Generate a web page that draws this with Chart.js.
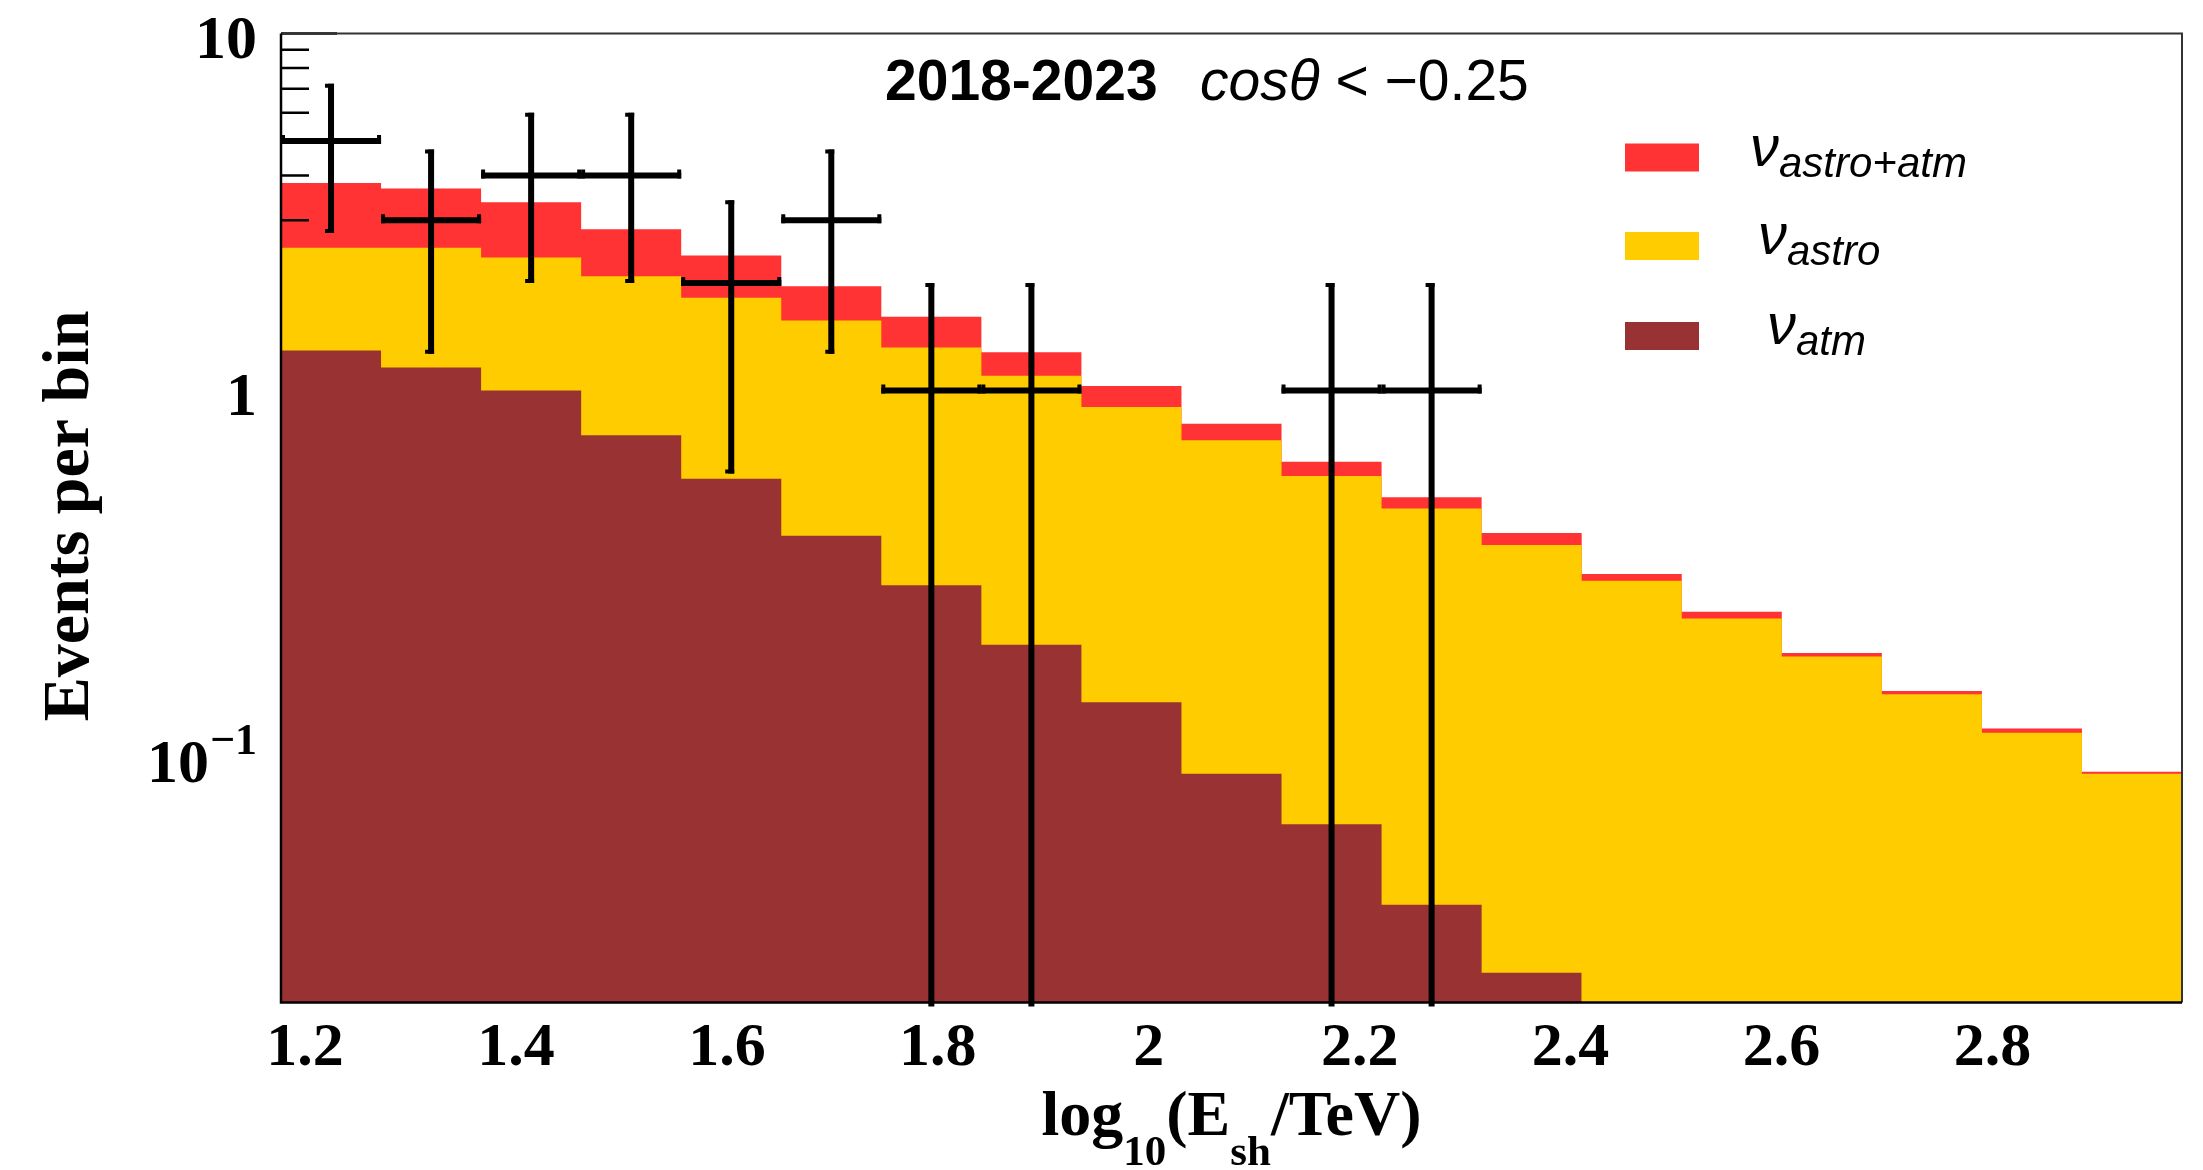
<!DOCTYPE html>
<html>
<head>
<meta charset="utf-8">
<title>Events per bin</title>
<script src="https://cdn.jsdelivr.net/npm/chart.js@4.4.1/dist/chart.umd.min.js"></script>
<style>
  html, body { margin: 0; padding: 0; background: #fff; }
  canvas { display: block; }
</style>
</head>
<body>
<canvas id="spectrumChart" width="2203" height="1170"></canvas>
<script>
// Shower energy spectrum, upgoing events (cos theta < -0.25), 2018-2023

// Binning of log10(E_sh/TeV)
const binCount = 19;
const xMin = 1.1772;
const xMax = 2.9798;

// Expected events per bin
const astroAtm = [3.81, 3.68, 3.37, 2.83, 2.39, 1.96, 1.61, 1.28, 1.03, 0.807,
                  0.632, 0.502, 0.399, 0.306, 0.240, 0.184, 0.144, 0.113, 0.0855];
const astro    = [2.51, 2.51, 2.36, 2.09, 1.82, 1.57, 1.32, 1.10, 0.899, 0.726,
                  0.576, 0.467, 0.369, 0.293, 0.230, 0.180, 0.141, 0.110, 0.0845];
// atmospheric part only where it is above the axis minimum (first 13 bins)
const atm      = [1.295, 1.16, 1.0, 0.749, 0.566, 0.392, 0.285, 0.194, 0.134, 0.0845,
                  0.061, 0.0363, 0.0234];

// Observed events and their errors
const observed    = [5, 3, 4, 4, 2, 3, 1, 1, 0, 0, 1, 1, 0, 0, 0, 0, 0, 0, 0];
const observedErr = [2.236, 1.732, 2, 2, 1.414, 1.732, 1, 1, 0, 0, 1, 1, 0, 0, 0, 0, 0, 0, 0];

// Axis ticks and labels
const xTickValues = [1.2, 1.4, 1.6, 1.8, 2.0, 2.2, 2.4, 2.6, 2.8];
const xTickLabels = ['1.2', '1.4', '1.6', '1.8', '2', '2.2', '2.4', '2.6', '2.8'];
const yMajorTicks = [10, 1, 0.1];
const yTickBases  = ['10', '1', '10'];
const yTickExps   = ['', '', '\u22121'];
const yMinorSteps = [2, 3, 4, 5, 6, 7, 8, 9];

const legendSubs = ['astro+atm', 'astro', 'atm'];

const colors = {
  total: '#ff3333',
  astro: '#ffcc00',
  atm: '#993333',
  ink: '#000000'
};

const binWidth = (xMax - xMin) / binCount;
const binEdges = Array.from({ length: binCount + 1 }, (_, i) => xMin + i * binWidth);

// histogram as a stepped outline: one point per lower edge plus the closing edge
function stepPoints(values) {
  const pts = values.map((v, i) => ({ x: binEdges[i], y: v }));
  pts.push({ x: binEdges[values.length], y: values[values.length - 1] });
  return pts;
}

const dataPoints = observed
  .map((n, i) => ({ x: binEdges[i] + binWidth / 2, y: n, err: observedErr[i], lo: binEdges[i], hi: binEdges[i + 1] }))
  .filter(p => p.y > 0);

const serif = '"Liberation Serif", "Times New Roman", serif';
const sans = '"Liberation Sans", Arial, sans-serif';

// Frame, ticks, error bars and text in ROOT style
const rootStyle = {
  id: 'rootStyle',
  afterDatasetDraw(chart, args) {
    // y ticks sit above the total histogram but under the other two
    if (args.index !== 0) return;
    const ctx = chart.ctx;
    const y = chart.scales.y;
    const left = chart.chartArea.left;
    ctx.save();
    ctx.strokeStyle = colors.ink;
    ctx.lineWidth = 2.5;
    ctx.beginPath();
    yMajorTicks.forEach(v => {
      const py = y.getPixelForValue(v);
      ctx.moveTo(left, py);
      ctx.lineTo(left + 56, py);
    });
    [0.01, 0.1, 1].forEach(decade => {
      yMinorSteps.forEach(s => {
        const v = s * decade;
        if (v < y.min || v > y.max) return;
        const py = y.getPixelForValue(v);
        ctx.moveTo(left, py);
        ctx.lineTo(left + 28, py);
      });
    });
    ctx.stroke();
    ctx.restore();
  },
  afterDatasetsDraw(chart) {
    const ctx = chart.ctx;
    const { left, right, top, bottom } = chart.chartArea;
    const x = chart.scales.x;
    const y = chart.scales.y;

    ctx.save();
    // frame
    ctx.strokeStyle = '#333333';
    ctx.lineWidth = 2;
    ctx.beginPath();
    ctx.moveTo(left, top);
    ctx.lineTo(right, top);
    ctx.lineTo(right, bottom);
    ctx.stroke();
    ctx.strokeStyle = colors.ink;
    ctx.lineWidth = 2.5;
    ctx.beginPath();
    ctx.moveTo(left, top);
    ctx.lineTo(left, bottom);
    ctx.lineTo(right, bottom);
    ctx.stroke();

    // data points with error bars
    const obs = chart.data.datasets[3].data;
    ctx.strokeStyle = colors.ink;
    ctx.lineWidth = 6;
    ctx.lineCap = 'butt';
    obs.forEach(p => {
      const cx = x.getPixelForValue(p.x);
      const cy = y.getPixelForValue(p.y);
      const yUp = y.getPixelForValue(p.y + p.err);
      const low = p.y - p.err;
      const yLow = low > y.min ? y.getPixelForValue(low) : bottom + 4;
      const xl = x.getPixelForValue(p.lo);
      const xr = x.getPixelForValue(p.hi);
      ctx.beginPath();
      ctx.moveTo(cx, yUp);
      ctx.lineTo(cx, yLow);
      ctx.moveTo(xl, cy);
      ctx.lineTo(xr, cy);
      ctx.stroke();
      // end caps
      ctx.save();
      ctx.lineWidth = 4;
      ctx.beginPath();
      ctx.moveTo(cx - 6, yUp + 2); ctx.lineTo(cx + 3, yUp + 2);
      if (low > y.min) { ctx.moveTo(cx - 6, yLow - 2); ctx.lineTo(cx + 3, yLow - 2); }
      ctx.moveTo(xl + 2, cy - 6); ctx.lineTo(xl + 2, cy + 3);
      ctx.moveTo(xr - 2, cy - 6); ctx.lineTo(xr - 2, cy + 3);
      ctx.stroke();
      ctx.restore();
    });

    ctx.fillStyle = colors.ink;

    // x tick labels
    ctx.font = 'bold 62px ' + serif;
    ctx.textAlign = 'center';
    ctx.textBaseline = 'alphabetic';
    xTickValues.forEach((v, i) => {
      ctx.fillText(xTickLabels[i], x.getPixelForValue(v), 1065);
    });

    // y tick labels
    ctx.textAlign = 'right';
    const labelRight = left - 24;
    yMajorTicks.forEach((v, i) => {
      const py = y.getPixelForValue(v);
      if (yTickExps[i]) {
        ctx.font = 'bold 44px ' + serif;
        const ew = ctx.measureText(yTickExps[i]).width;
        ctx.fillText(yTickExps[i], labelRight, py + 6);
        ctx.font = 'bold 62px ' + serif;
        ctx.fillText(yTickBases[i], labelRight - ew - 1, py + 34);
      } else {
        ctx.font = 'bold 62px ' + serif;
        ctx.fillText(yTickBases[i], labelRight, py + 24);
      }
    });

    // y axis title
    ctx.save();
    ctx.translate(88, 516);
    ctx.rotate(-Math.PI / 2);
    ctx.textAlign = 'center';
    ctx.font = 'bold 66px ' + serif;
    ctx.fillText('Events per bin', 0, 0);
    ctx.restore();

    // x axis title with subscripts
    const parts = [['log', 0], ['10', 1], ['(E', 0], ['sh', 1], ['/TeV)', 0]];
    const mainFont = 'bold 64px ' + serif;
    const subFont = 'bold 43px ' + serif;
    let total = 0;
    parts.forEach(([t, sub]) => { ctx.font = sub ? subFont : mainFont; total += ctx.measureText(t).width; });
    let tx = (left + right) / 2 - total / 2;
    ctx.textAlign = 'left';
    parts.forEach(([t, sub]) => {
      ctx.font = sub ? subFont : mainFont;
      ctx.fillText(t, tx, sub ? 1165 : 1135);
      tx += ctx.measureText(t).width;
    });

    // header
    ctx.font = 'bold 57px ' + sans;
    ctx.fillText('2018-2023', 885, 100);
    ctx.font = 'italic 57px ' + sans;
    ctx.fillText('cos\u03b8', 1200, 100);
    const cw = ctx.measureText('cos\u03b8').width;
    ctx.font = '57px ' + sans;
    ctx.fillText(' < \u22120.25', 1200 + cw, 100);

    // legend
    const entries = [
      { color: colors.total, textX: 1750 },
      { color: colors.astro, textX: 1758 },
      { color: colors.atm, textX: 1767 }
    ];
    const rowCenters = [157.5, 246, 336];
    entries.forEach((e, i) => {
      const cy = rowCenters[i];
      ctx.fillStyle = e.color;
      ctx.fillRect(1625, cy - 14, 74, 28);
      ctx.fillStyle = colors.ink;
      ctx.font = 'italic 58px ' + sans;
      ctx.fillText('\u03bd', e.textX, cy + 8);
      const nw = ctx.measureText('\u03bd').width;
      ctx.font = 'italic 42px ' + sans;
      ctx.fillText(legendSubs[i], e.textX + nw, cy + 19);
    });
    ctx.restore();
  }
};

const chart = new Chart(document.getElementById('spectrumChart').getContext('2d'), {
  type: 'line',
  data: {
    datasets: [
      {
        label: '\u03bd astro+atm',
        data: stepPoints(astroAtm),
        stepped: 'before',
        fill: 'start',
        backgroundColor: colors.total,
        borderColor: colors.total,
        borderWidth: 0,
        pointRadius: 0,
        order: 3
      },
      {
        label: '\u03bd astro',
        data: stepPoints(astro),
        stepped: 'before',
        fill: 'start',
        backgroundColor: colors.astro,
        borderColor: colors.astro,
        borderWidth: 0,
        pointRadius: 0,
        order: 2
      },
      {
        label: '\u03bd atm',
        data: stepPoints(atm),
        stepped: 'before',
        fill: 'start',
        backgroundColor: colors.atm,
        borderColor: colors.atm,
        borderWidth: 0,
        pointRadius: 0,
        order: 1
      },
      {
        type: 'scatter',
        label: 'data',
        data: dataPoints,
        showLine: false,
        pointRadius: 0,
        order: 0
      }
    ]
  },
  options: {
    responsive: false,
    devicePixelRatio: 1,
    animation: false,
    events: [],
    layout: { padding: { left: 281, top: 33.5, right: 21, bottom: 167.4 } },
    plugins: {
      legend: { display: false },
      tooltip: { enabled: false }
    },
    scales: {
      x: { type: 'linear', min: xMin, max: xMax, display: false },
      y: { type: 'logarithmic', min: 0.0193, max: 10, display: false }
    }
  },
  plugins: [rootStyle]
});
</script>
</body>
</html>
